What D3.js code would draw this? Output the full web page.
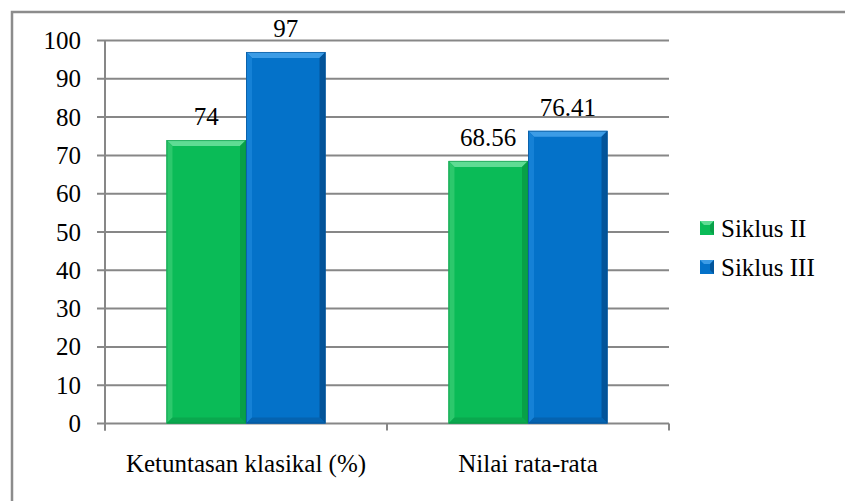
<!DOCTYPE html>
<html>
<head>
<meta charset="utf-8">
<script src="https://cdn.jsdelivr.net/npm/d3@7/dist/d3.min.js"></script>
<style>
  html, body { margin: 0; padding: 0; background: #fff; }
  svg { display: block; }
</style>
</head>
<body>
<svg id="chart" width="845" height="501"></svg>
<script>
// Data
const categories = ["Ketuntasan klasikal (%)", "Nilai rata-rata"];
const seriesNames = ["Siklus II", "Siklus III"];
const siklusII = [74, 68.56];
const siklusIII = [97, 76.41];
const valueLabels = [["74", "68.56"], ["97", "76.41"]];
const yTicks = [0, 10, 20, 30, 40, 50, 60, 70, 80, 90, 100];

const series = [siklusII, siklusIII];
const FONT = "Liberation Serif";

const svg = d3.select("#chart");
const W = 845, H = 501;

// Outer chart frame
svg.append("rect")
  .attr("x", 12).attr("y", 12)
  .attr("width", W).attr("height", H)
  .attr("fill", "#fff")
  .attr("stroke", "#8c8c8c").attr("stroke-width", 2.5);

const plot = { left: 105, right: 669, top: 40.5, bottom: 423.5 };

const x = d3.scaleBand().domain(categories)
  .range([plot.left, plot.right]).paddingInner(0.436).paddingOuter(0.218);
const xs = d3.scaleBand().domain(d3.range(series.length))
  .range([0, x.bandwidth()]).padding(0);
const xc = d3.scaleBand().domain(categories).range([plot.left, plot.right]);
const y = d3.scaleLinear().domain([0, 100]).range([plot.bottom, plot.top]);

const gridColor = "#878787";

// Horizontal gridlines with left tick marks
svg.append("g").selectAll("line").data(yTicks).join("line")
  .attr("x1", plot.left - 8).attr("x2", plot.right)
  .attr("y1", d => y(d)).attr("y2", d => y(d))
  .attr("stroke", gridColor).attr("stroke-width", 2);

// Y axis line
svg.append("line")
  .attr("x1", plot.left).attr("x2", plot.left)
  .attr("y1", plot.top).attr("y2", plot.bottom + 7)
  .attr("stroke", gridColor).attr("stroke-width", 2);

// Category boundary ticks on the x axis
const bounds = [plot.left, ...categories.slice(1).map(c => xc(c)), plot.right];
svg.append("g").selectAll("line").data(bounds).join("line")
  .attr("x1", d => d).attr("x2", d => d)
  .attr("y1", plot.bottom).attr("y2", plot.bottom + 7)
  .attr("stroke", gridColor).attr("stroke-width", 2);

const addText = (sel) => sel.style("font-family", FONT).style("font-size", "25px").attr("fill", "#000");

// Y tick labels
addText(svg.append("g").selectAll("text").data(yTicks).join("text"))
  .attr("x", plot.left - 24).attr("y", d => y(d) + 8.5)
  .attr("text-anchor", "end")
  .text(d => d);

// Bar palettes: face, top bevel, left bevel, right bevel, bottom bevel
const palettes = [
  { face: "#0abb57", top: "#5fdc94", left: "#2cc86c", right: "#08a048", bottom: "#0aa84e", stroke: "#079343" },
  { face: "#0472c9", top: "#3c9ce6", left: "#1581d6", right: "#03549a", bottom: "#0563b0", stroke: "#034f8f" }
];
const bev = 6;
const pts = (arr) => arr.map(a => a.join(",")).join(" ");

function drawBar(g, x0, x1, y0, y1, p) {
  g.append("rect").attr("x", x0).attr("y", y0).attr("width", x1 - x0).attr("height", y1 - y0)
    .attr("fill", p.face);
  g.append("polygon").attr("fill", p.top)
    .attr("points", pts([[x0, y0], [x1, y0], [x1 - bev, y0 + bev], [x0 + bev, y0 + bev]]));
  g.append("polygon").attr("fill", p.left)
    .attr("points", pts([[x0, y0], [x0 + bev, y0 + bev], [x0 + bev, y1 - bev], [x0, y1]]));
  g.append("polygon").attr("fill", p.right)
    .attr("points", pts([[x1, y0], [x1, y1], [x1 - bev, y1 - bev], [x1 - bev, y0 + bev]]));
  g.append("polygon").attr("fill", p.bottom)
    .attr("points", pts([[x0, y1], [x0 + bev, y1 - bev], [x1 - bev, y1 - bev], [x1, y1]]));
  g.append("rect").attr("x", x0 + 0.5).attr("y", y0 + 0.5).attr("width", x1 - x0 - 1).attr("height", y1 - y0 - 1)
    .attr("fill", "none").attr("stroke", p.stroke).attr("stroke-width", 1).attr("stroke-opacity", 0.6);
}

const bars = svg.append("g");
series.forEach((vals, si) => {
  vals.forEach((v, ci) => {
    const x0 = x(categories[ci]) + xs(si);
    const x1 = x0 + xs.bandwidth();
    drawBar(bars, x0, x1, y(v), y(0), palettes[si]);
    addText(svg.append("text"))
      .attr("x", (x0 + x1) / 2).attr("y", y(v) - 15)
      .attr("text-anchor", "middle")
      .text(valueLabels[si][ci]);
  });
});

// Category labels
addText(svg.append("g").selectAll("text").data(categories).join("text"))
  .attr("x", d => xc(d) + xc.bandwidth() / 2).attr("y", plot.bottom + 48)
  .attr("text-anchor", "middle")
  .text(d => d);

// Legend
const legend = svg.append("g");
seriesNames.forEach((name, i) => {
  const ly = 221 + i * 39;
  const p = palettes[i];
  const s = 14, b = 4, lx = 700;
  legend.append("rect").attr("x", lx).attr("y", ly).attr("width", s).attr("height", s).attr("fill", p.face);
  legend.append("polygon").attr("fill", p.top)
    .attr("points", pts([[lx, ly], [lx + s, ly], [lx + s - b, ly + b], [lx + b, ly + b]]));
  legend.append("polygon").attr("fill", p.right)
    .attr("points", pts([[lx + s, ly], [lx + s, ly + s], [lx + s - b, ly + s - b], [lx + s - b, ly + b]]));
  addText(legend.append("text")).attr("x", lx + 21).attr("y", ly + 16)
    .text(name);
});
</script>
</body>
</html>
